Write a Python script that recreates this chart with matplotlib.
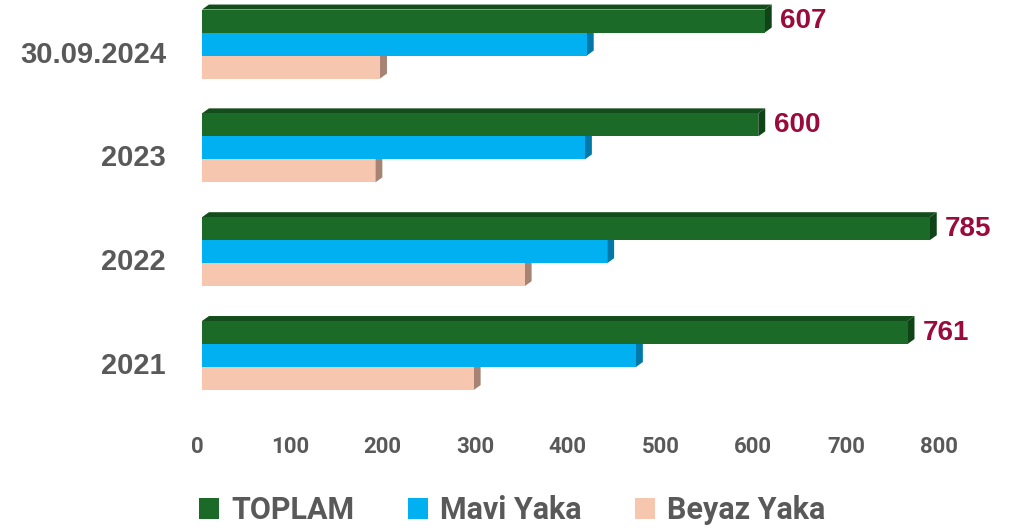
import matplotlib
matplotlib.use("Agg")
import matplotlib.pyplot as plt
from matplotlib.patches import Polygon
from matplotlib.transforms import ScaledTranslation

# --- data ---
categories = ["2021", "2022", "2023", "30.09.2024"]
toplam = [761, 785, 600, 607]
mavi_yaka = [468, 437, 413, 415]
beyaz_yaka = [293, 348, 187, 192]
series_names = ["TOPLAM", "Mavi Yaka", "Beyaz Yaka"]

# colours: front, top, side
colors = {
    "TOPLAM": ("#1b6a27", "#134d1b", "#0f4416"),
    "Mavi Yaka": ("#00b0f0", "#0086b8", "#0079a8"),
    "Beyaz Yaka": ("#f6c7ae", "#c9a08c", "#a68372"),
}
gray = "#595959"
red = "#9a0a3a"

fig = plt.figure(figsize=(10.25, 5.29), dpi=100)
ax = fig.add_axes([0.1971, 0.22, 0.7688, 0.7792])

h = 0.2216          # bar thickness
dx, dy = 7.5, 0.048  # fake 3D depth (data units)

ypos = list(range(len(categories)))
series = [("Beyaz Yaka", beyaz_yaka, -h), ("Mavi Yaka", mavi_yaka, 0.0), ("TOPLAM", toplam, h)]

for name, vals, off in series:
    front, top, side = colors[name]
    for y, v in zip(ypos, vals):
        yc = y + off
        y0, y1 = yc - h / 2, yc + h / 2
        ax.add_patch(Polygon([(0, y1), (v, y1), (v + dx, y1 + dy), (dx, y1 + dy)],
                             closed=True, facecolor=top, edgecolor="none", zorder=2))
        ax.add_patch(Polygon([(v, y0), (v, y1), (v + dx, y1 + dy), (v + dx, y0 + dy)],
                             closed=True, facecolor=side, edgecolor="none", zorder=2))
    ax.barh([y + off for y in ypos], vals, height=h, color=front,
            edgecolor="none", zorder=3, label=name)

# value labels for total
for y, v in zip(ypos, toplam):
    ax.annotate(str(v), xy=(v, y + h), xytext=(11, 0), textcoords="offset points",
                ha="left", va="center", fontsize=20, fontweight="bold",
                color=red, family="Liberation Sans")

ax.set_xlim(0, 850)
ax.set_ylim(-0.55, 3.42)
ax.set_xticks(range(0, 801, 100))
ax.set_yticks([y - 0.072 for y in ypos])
ax.set_yticklabels(categories)

for s in ax.spines.values():
    s.set_visible(False)
ax.tick_params(axis="both", length=0)
ax.tick_params(axis="x", pad=17)
ax.tick_params(axis="y", pad=26)

for lab in ax.get_yticklabels():
    lab.set_fontsize(21)
    lab.set_fontweight("bold")
    lab.set_color(gray)
    lab.set_family("Liberation Sans")

for lab in ax.get_xticklabels():
    lab.set_fontsize(16)
    lab.set_fontweight("bold")
    lab.set_color(gray)
    lab.set_family("Roboto")
    lab.set_transform(lab.get_transform() + ScaledTranslation(-5 / 100, 0, fig.dpi_scale_trans))

handles, labels = ax.get_legend_handles_labels()
order = [labels.index(n) for n in series_names]
leg = fig.legend([handles[i] for i in order], [labels[i] for i in order],
                 loc="lower center", bbox_to_anchor=(0.5, -0.045), ncol=3, frameon=False,
                 prop={"family": "Roboto", "weight": "bold", "size": 22},
                 handlelength=0.65, handleheight=0.65, handletextpad=0.4,
                 columnspacing=1.75)
for t in leg.get_texts():
    t.set_color(gray)

fig.savefig("out.png", dpi=100)
